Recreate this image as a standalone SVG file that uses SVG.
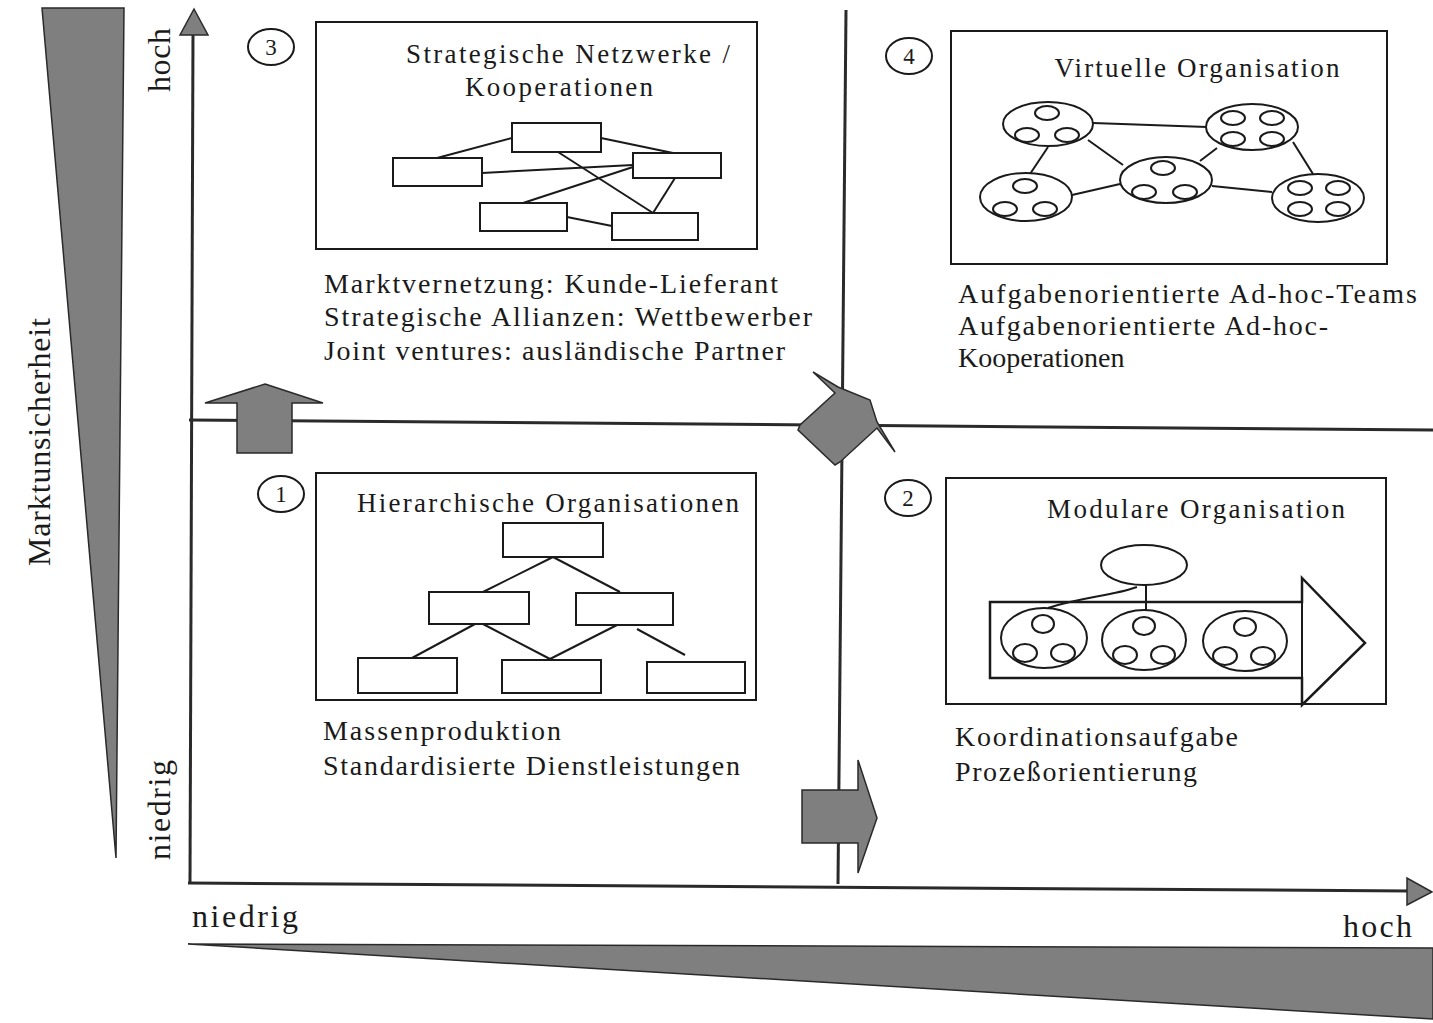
<svg xmlns="http://www.w3.org/2000/svg" width="1433" height="1023" viewBox="0 0 1433 1023">
<style>
  .t { font-family: "Liberation Serif", "Times New Roman", serif; fill: #1a1a1a; }
  .body { font-size: 28px; }
  .title { font-size: 27px; }
  .axis { font-size: 32px; }
  .num { font-size: 23px; }
  .box { fill: #fff; stroke: #1a1a1a; stroke-width: 2; }
  .ln { stroke: #1a1a1a; stroke-width: 2; fill: none; }
  .ov { fill: #fff; stroke: #1a1a1a; stroke-width: 2; }
  .gray { fill: #7f7f7f; stroke: #2a2a2a; stroke-width: 1.5; }
  .axl { stroke: #2a2a2a; stroke-width: 3; fill: none; }
</style>

<!-- wedges -->
<g id="wedge-left">
  <polygon class="gray" points="42,8 124,8 116,858"/>
</g>
<g id="wedge-bottom">
  <polygon class="gray" points="188,944 1433,948 1433,1019"/>
</g>

<!-- axes and dividers -->
<g id="connectors">
  <line class="axl" x1="190" y1="884" x2="193" y2="32"/>
  <polygon fill="#7f7f7f" stroke="#2a2a2a" stroke-width="1.5" points="194,9 208,35 180,35"/>
  <line class="axl" x1="188" y1="883" x2="1410" y2="891"/>
  <polygon fill="#7f7f7f" stroke="#2a2a2a" stroke-width="1.5" points="1432,892 1407,878 1407,905"/>
  <line class="axl" x1="846" y1="10" x2="838" y2="884"/>
  <line class="axl" x1="189" y1="420" x2="1433" y2="430"/>
</g>

<!-- axis labels -->
<g id="axis-labels">
  <text class="t axis" transform="translate(170,60) rotate(-90)" text-anchor="middle" textLength="64">hoch</text>
  <text class="t axis" transform="translate(170,810) rotate(-90)" text-anchor="middle" textLength="100">niedrig</text>
  <text class="t axis" transform="translate(50,442) rotate(-90)" text-anchor="middle" textLength="248">Marktunsicherheit</text>
  <text class="t axis" x="192" y="927" textLength="106">niedrig</text>
  <text class="t axis" x="1343" y="937" textLength="69">hoch</text>
</g>

<!-- gray arrows -->
<g id="arrow-up">
  <polygon class="gray" points="265,384 323,403 292,403 292,453 237,453 237,403 205,403"/>
</g>
<g id="arrow-diag">
  <polygon class="gray" points="813,372 838,387 870,400 877,422 895,452 877,428 840,462 835,465 798,430 800,425 835,393"/>
</g>
<g id="arrow-right">
  <polygon class="gray" points="802,790 858,790 858,760 877,818 858,873 858,843 802,843"/>
</g>

<!-- Quadrant 3 -->
<g id="q3">
  <ellipse class="ov" cx="271" cy="47" rx="23" ry="18"/>
  <text class="t num" x="271" y="55" text-anchor="middle">3</text>
  <rect class="box" x="316" y="22" width="441" height="227"/>
  <text class="t title" x="568" y="63" text-anchor="middle" textLength="324">Strategische Netzwerke /</text>
  <text class="t title" x="559" y="96" text-anchor="middle" textLength="188">Kooperationen</text>
  <line class="ln" x1="437" y1="158" x2="512" y2="138"/>
  <line class="ln" x1="601" y1="138" x2="673" y2="153"/>
  <line class="ln" x1="482" y1="173" x2="633" y2="165"/>
  <line class="ln" x1="523" y1="203" x2="633" y2="167"/>
  <line class="ln" x1="558" y1="152" x2="653" y2="213"/>
  <line class="ln" x1="675" y1="178" x2="653" y2="213"/>
  <line class="ln" x1="567" y1="217" x2="612" y2="226"/>
  <rect class="box" x="512" y="123" width="89" height="29"/>
  <rect class="box" x="393" y="158" width="89" height="28"/>
  <rect class="box" x="633" y="153" width="88" height="25"/>
  <rect class="box" x="480" y="203" width="87" height="28"/>
  <rect class="box" x="612" y="213" width="86" height="27"/>
  <text class="t body" x="324" y="293" textLength="454">Marktvernetzung: Kunde-Lieferant</text>
  <text class="t body" x="324" y="326" textLength="488">Strategische Allianzen: Wettbewerber</text>
  <text class="t body" x="324" y="360" textLength="461">Joint ventures: ausländische Partner</text>
</g>

<!-- Quadrant 4 -->
<g id="q4">
  <ellipse class="ov" cx="909" cy="56" rx="23" ry="18"/>
  <text class="t num" x="909" y="64" text-anchor="middle">4</text>
  <rect class="box" x="951" y="31" width="436" height="233"/>
  <text class="t title" x="1197" y="77" text-anchor="middle" textLength="285">Virtuelle Organisation</text>
  <line class="ln" x1="1093" y1="123" x2="1207" y2="127"/>
  <line class="ln" x1="1088" y1="140" x2="1123" y2="165"/>
  <line class="ln" x1="1048" y1="147" x2="1030" y2="174"/>
  <line class="ln" x1="1217" y1="148" x2="1200" y2="161"/>
  <line class="ln" x1="1293" y1="142" x2="1313" y2="174"/>
  <line class="ln" x1="1072" y1="195" x2="1120" y2="184"/>
  <line class="ln" x1="1212" y1="186" x2="1272" y2="192"/>
  <ellipse class="ov" cx="1048" cy="124" rx="45" ry="22"/>
  <ellipse class="ov" cx="1047" cy="113" rx="12" ry="7"/>
  <ellipse class="ov" cx="1027" cy="135" rx="12" ry="7"/>
  <ellipse class="ov" cx="1067" cy="135" rx="12" ry="7"/>
  <ellipse class="ov" cx="1252" cy="127" rx="46" ry="23"/>
  <ellipse class="ov" cx="1233" cy="118" rx="12" ry="7"/>
  <ellipse class="ov" cx="1272" cy="118" rx="12" ry="7"/>
  <ellipse class="ov" cx="1233" cy="139" rx="12" ry="7"/>
  <ellipse class="ov" cx="1272" cy="139" rx="12" ry="7"/>
  <ellipse class="ov" cx="1166" cy="180" rx="46" ry="23"/>
  <ellipse class="ov" cx="1163" cy="168" rx="12" ry="7"/>
  <ellipse class="ov" cx="1144" cy="192" rx="12" ry="7"/>
  <ellipse class="ov" cx="1185" cy="192" rx="12" ry="7"/>
  <ellipse class="ov" cx="1026" cy="197" rx="46" ry="24"/>
  <ellipse class="ov" cx="1025" cy="186" rx="12" ry="7"/>
  <ellipse class="ov" cx="1005" cy="209" rx="12" ry="7"/>
  <ellipse class="ov" cx="1045" cy="209" rx="12" ry="7"/>
  <ellipse class="ov" cx="1318" cy="198" rx="46" ry="24"/>
  <ellipse class="ov" cx="1300" cy="188" rx="12" ry="7"/>
  <ellipse class="ov" cx="1338" cy="188" rx="12" ry="7"/>
  <ellipse class="ov" cx="1300" cy="209" rx="12" ry="7"/>
  <ellipse class="ov" cx="1338" cy="209" rx="12" ry="7"/>
  <text class="t body" x="958" y="303" textLength="459">Aufgabenorientierte Ad-hoc-Teams</text>
  <text class="t body" x="958" y="335" textLength="370">Aufgabenorientierte Ad-hoc-</text>
  <text class="t body" x="958" y="367">Kooperationen</text>
</g>

<!-- Quadrant 1 -->
<g id="q1">
  <ellipse class="ov" cx="281" cy="494" rx="23" ry="18"/>
  <text class="t num" x="281" y="502" text-anchor="middle">1</text>
  <rect class="box" x="316" y="473" width="440" height="227"/>
  <text class="t title" x="548" y="512" text-anchor="middle" textLength="382">Hierarchische Organisationen</text>
  <line class="ln" x1="553" y1="557" x2="483" y2="592"/>
  <line class="ln" x1="553" y1="557" x2="620" y2="592"/>
  <line class="ln" x1="475" y1="624" x2="412" y2="658"/>
  <line class="ln" x1="483" y1="624" x2="550" y2="659"/>
  <line class="ln" x1="617" y1="625" x2="550" y2="659"/>
  <line class="ln" x1="637" y1="629" x2="685" y2="655"/>
  <rect class="box" x="503" y="523" width="100" height="34"/>
  <rect class="box" x="429" y="592" width="100" height="32"/>
  <rect class="box" x="576" y="593" width="97" height="32"/>
  <rect class="box" x="358" y="658" width="99" height="35"/>
  <rect class="box" x="502" y="660" width="99" height="33"/>
  <rect class="box" x="647" y="662" width="98" height="31"/>
  <text class="t body" x="323" y="740" textLength="238">Massenproduktion</text>
  <text class="t body" x="323" y="775" textLength="417">Standardisierte Dienstleistungen</text>
</g>

<!-- Quadrant 2 -->
<g id="q2">
  <ellipse class="ov" cx="908" cy="498" rx="23" ry="18"/>
  <text class="t num" x="908" y="506" text-anchor="middle">2</text>
  <rect class="box" x="946" y="478" width="440" height="226"/>
  <text class="t title" x="1196" y="518" text-anchor="middle" textLength="298">Modulare Organisation</text>
  <polygon fill="#fff" stroke="#1a1a1a" stroke-width="2.5" points="990,602 1302,602 1302,578 1365,643 1302,705 1302,678 990,678"/>
  <line class="ln" x1="1302" y1="602" x2="1302" y2="678"/>
  <path class="ln" d="M1137,587 C1112,596 1082,597 1048,608"/>
  <line class="ln" x1="1146" y1="585" x2="1146" y2="611"/>
  <ellipse class="ov" cx="1144" cy="565" rx="43" ry="20"/>
  <ellipse class="ov" cx="1044" cy="638" rx="43" ry="30"/>
  <ellipse class="ov" cx="1043" cy="624" rx="11" ry="9"/>
  <ellipse class="ov" cx="1025" cy="653" rx="12" ry="9"/>
  <ellipse class="ov" cx="1063" cy="653" rx="12" ry="9"/>
  <ellipse class="ov" cx="1144" cy="640" rx="42" ry="30"/>
  <ellipse class="ov" cx="1144" cy="626" rx="11" ry="9"/>
  <ellipse class="ov" cx="1125" cy="655" rx="12" ry="9"/>
  <ellipse class="ov" cx="1163" cy="655" rx="12" ry="9"/>
  <ellipse class="ov" cx="1245" cy="641" rx="42" ry="30"/>
  <ellipse class="ov" cx="1245" cy="627" rx="11" ry="9"/>
  <ellipse class="ov" cx="1225" cy="656" rx="12" ry="9"/>
  <ellipse class="ov" cx="1263" cy="656" rx="12" ry="9"/>
  <text class="t body" x="955" y="746" textLength="283">Koordinationsaufgabe</text>
  <text class="t body" x="955" y="781" textLength="242">Prozeßorientierung</text>
</g>
</svg>
